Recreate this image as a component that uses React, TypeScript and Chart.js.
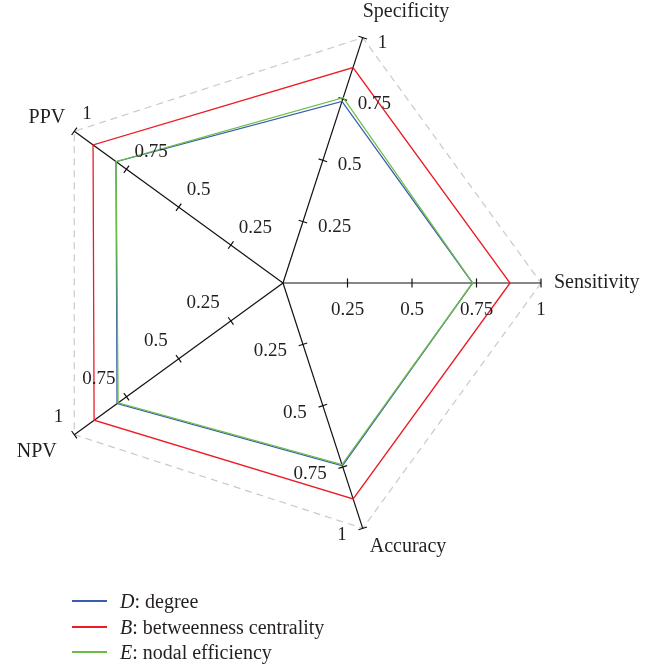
import React, { useEffect, useRef } from "react";
import { Chart, registerables } from "chart.js";

Chart.register(...registerables);

// Axis order as Chart.js walks it clockwise, starting at the right (startAngle 90)
const categories = ["Sensitivity", "Accuracy", "NPV", "PPV", "Specificity"];
const degreeValues = [0.735, 0.745, 0.795, 0.8, 0.74];
const betweennessValues = [0.88, 0.88, 0.905, 0.91, 0.878];
const efficiencyValues = [0.735, 0.74, 0.79, 0.8, 0.755];
const tickValues = [0.25, 0.5, 0.75, 1];
const tickLabels = ["0.25", "0.5", "0.75", "1"];
const seriesLetters = ["D", "B", "E"];
const seriesNames = ["degree", "betweenness centrality", "nodal efficiency"];

const COLORS = ["#3a5cae", "#ed1c24", "#6cbd45"];
const TEXT = "#231f20";
const FONT_FAMILY = '"Liberation Serif", "Times New Roman", serif';
const TICK_FONT = `19px ${FONT_FAMILY}`;
const TITLE_FONT = `20px ${FONT_FAMILY}`;

type Place = { dx: number; dy: number; align: CanvasTextAlign };
const tickPlacement: Place[] = [
  { dx: 0, dy: 27, align: "center" },
  { dx: -16, dy: 7, align: "right" },
  { dx: -11, dy: -17.5, align: "right" },
  { dx: 8, dy: -17, align: "left" },
  { dx: 15, dy: 5, align: "left" },
];
const titlePlacement: Place[] = [
  { dx: 13, dy: 0, align: "left" },
  { dx: 7, dy: 18, align: "left" },
  { dx: -17.5, dy: 17, align: "right" },
  { dx: -9, dy: -13.5, align: "right" },
  { dx: 0, dy: -26, align: "left" },
];

const axisDecor = {
  id: "axisDecor",
  beforeDatasetsDraw(chart: any) {
    const scale = chart.scales.r;
    const ctx = chart.ctx as CanvasRenderingContext2D;
    ctx.save();
    ctx.strokeStyle = "#111111";
    ctx.lineWidth = 1.2;
    for (let i = 0; i < categories.length; i++) {
      const a = scale.getIndexAngle(i) - Math.PI / 2;
      const px = -Math.sin(a);
      const py = Math.cos(a);
      for (const v of tickValues) {
        const p = scale.getPointPositionForValue(i, v);
        ctx.beginPath();
        ctx.moveTo(p.x - px * 4.5, p.y - py * 4.5);
        ctx.lineTo(p.x + px * 4.5, p.y + py * 4.5);
        ctx.stroke();
      }
    }
    ctx.restore();
  },
  afterDraw(chart: any) {
    const scale = chart.scales.r;
    const ctx = chart.ctx as CanvasRenderingContext2D;
    ctx.save();
    ctx.fillStyle = TEXT;
    ctx.textBaseline = "middle";
    for (let i = 0; i < categories.length; i++) {
      const tp = tickPlacement[i];
      ctx.font = TICK_FONT;
      ctx.textAlign = tp.align;
      tickValues.forEach((v, k) => {
        const p = scale.getPointPositionForValue(i, v);
        ctx.fillText(tickLabels[k], p.x + tp.dx, p.y + tp.dy);
      });
      const end = scale.getPointPositionForValue(i, 1);
      const tl = titlePlacement[i];
      ctx.font = TITLE_FONT;
      ctx.textAlign = tl.align;
      ctx.fillText(categories[i], end.x + tl.dx, end.y + tl.dy);
    }
    ctx.restore();
  },
};

export default function App() {
  const ref = useRef<HTMLCanvasElement>(null);

  useEffect(() => {
    if (!ref.current) return;
    const seriesValues = [degreeValues, betweennessValues, efficiencyValues];
    const chart = new Chart(ref.current, {
      type: "radar",
      data: {
        labels: categories,
        datasets: seriesValues.map((vals, i) => ({
          label: `${seriesLetters[i]}: ${seriesNames[i]}`,
          data: vals,
          borderColor: COLORS[i],
          backgroundColor: "transparent",
          borderWidth: 1.3,
          pointRadius: 0,
          pointHoverRadius: 0,
          fill: false,
          tension: 0,
          order: i === 2 ? 0 : 1,
        })),
      },
      options: {
        responsive: false,
        devicePixelRatio: 1,
        animation: false,
        events: [],
        layout: { padding: { left: 25, top: 25, right: 117, bottom: 126 } },
        plugins: {
          legend: { display: false },
          tooltip: { enabled: false },
          title: { display: false },
        },
        scales: {
          r: {
            min: 0,
            max: 1,
            startAngle: 90,
            ticks: { display: false, stepSize: 0.25 },
            pointLabels: { display: false },
            grid: {
              circular: false,
              lineWidth: 1.2,
              color: (c: any) => (c.tick && c.tick.value === 1 ? "#c9c9c9" : "transparent"),
            },
            border: { dash: [7, 5] },
            angleLines: { display: true, color: "#111111", lineWidth: 1.2 },
          } as any,
        },
      },
      plugins: [axisDecor],
    });
    return () => chart.destroy();
  }, []);

  const legendY = [601, 627, 652];

  return (
    <div style={{ position: "absolute", left: 0, top: 0, width: 658, height: 667, background: "#fff" }}>
      <canvas ref={ref} width={658} height={667} style={{ display: "block", width: 658, height: 667 }} />
      {seriesLetters.map((letter, i) => (
        <div
          key={letter}
          style={{
            position: "absolute",
            left: 72,
            top: legendY[i] - 12,
            height: 24,
            display: "flex",
            alignItems: "center",
            fontFamily: FONT_FAMILY,
            fontSize: 20,
            color: TEXT,
            whiteSpace: "nowrap",
          }}
        >
          <div style={{ width: 35, height: 1.5, background: COLORS[i], flex: "none" }} />
          <span style={{ marginLeft: 13 }}>
            <i>{letter}</i>: {seriesNames[i]}
          </span>
        </div>
      ))}
    </div>
  );
}
